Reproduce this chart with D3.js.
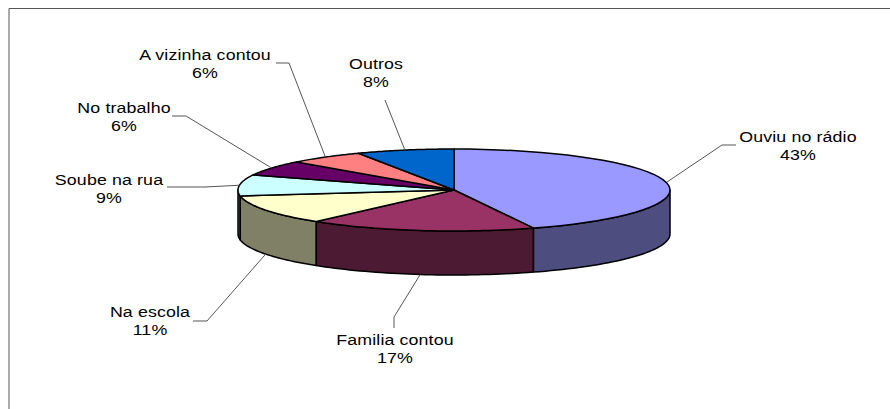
<!DOCTYPE html>
<html>
<head>
<meta charset="utf-8">
<script src="https://cdn.jsdelivr.net/npm/d3@7"></script>
<style>
  html, body { margin: 0; padding: 0; background: #fff; }
  svg { display: block; }
  text { font-family: "Liberation Sans", Arial, sans-serif; font-size: 14px; letter-spacing: 0.1px; fill: #000; text-anchor: middle; }
</style>
</head>
<body>
<div id="chart"></div>
<script>
const categories = ["Ouviu no rádio", "Familia contou", "Na escola", "Soube na rua", "No trabalho", "A vizinha contou", "Outros"];
const percentLabels = ["43%", "17%", "11%", "9%", "6%", "6%", "8%"];
// shares as the slices appear in the picture (the printed labels are rounded)
const sliceShares = [44, 17, 11.7, 8.3, 6, 5.7, 7.3];
const topColors = ["#9999ff", "#993366", "#ffffcc", "#ccffff", "#660066", "#ff8080", "#0066cc"];
const sideColors = ["#4d4d80", "#4d1a33", "#808066", "#668080", "#330033", "#804040", "#003366"];

// label centre, then elbow points of the leader line
const labelLayout = [
  { x: 798, y: 142, elbow: [[722, 145], [736, 145]], start: [667, 182] },
  { x: 395, y: 345, elbow: [[394, 317], [394, 328]] },
  { x: 150, y: 317, elbow: [[207, 321], [193, 321]] },
  { x: 109, y: 185, elbow: [[205, 187], [167, 187]] },
  { x: 124, y: 113, elbow: [[186, 116], [172, 116]] },
  { x: 205, y: 60, elbow: [[289, 63], [276, 63]] },
  { x: 376, y: 69, elbow: [[385, 100]] }
];

const width = 890;
const height = 409;
const cx = 454, cy = 190, rx = 216, ry = 41, depth = 44;
const textStretch = 1.27; // the labels are drawn wide in the original

const svg = d3.select("#chart")
  .append("svg")
  .attr("width", width)
  .attr("height", height);

// Frame, only top and left are visible
svg.append("path")
  .attr("d", d3.line()([[9, height], [9, 8.5], [width, 8.5]]))
  .attr("fill", "none")
  .attr("stroke", "#555")
  .attr("stroke-width", 1);

const slices = d3.pie().sort(null).value(d => d)(sliceShares);

// angle measured clockwise from 12 o'clock, projected on the tilted disc
const project = (a, dy = 0) => [cx + rx * Math.sin(a), cy - ry * Math.cos(a) + dy];
const line = d3.line();

// Side walls: only the part of a slice on the front half of the disc
const wallStart = Math.PI / 2, wallEnd = Math.PI * 1.5;
const walls = slices
  .map((s, i) => ({ a0: Math.max(s.startAngle, wallStart), a1: Math.min(s.endAngle, wallEnd), i }))
  .filter(d => d.a1 > d.a0);

svg.append("g").selectAll("path")
  .data(walls.reverse())
  .join("path")
  .attr("d", d => {
    const angles = d3.range(0, 41).map(k => d.a0 + (d.a1 - d.a0) * k / 40);
    const top = angles.map(a => project(a));
    const bottom = angles.slice().reverse().map(a => project(a, depth));
    return line(top.concat(bottom)) + "Z";
  })
  .attr("fill", d => sideColors[d.i])
  .attr("stroke", "#000")
  .attr("stroke-width", 1.5)
  .attr("stroke-linejoin", "round");

// Top of the pie
svg.append("g").selectAll("path")
  .data(slices)
  .join("path")
  .attr("d", d => {
    const angles = d3.range(0, 41).map(k => d.startAngle + (d.endAngle - d.startAngle) * k / 40);
    return line([[cx, cy]].concat(angles.map(a => project(a)))) + "Z";
  })
  .attr("fill", (d, i) => topColors[i])
  .attr("stroke", "#000")
  .attr("stroke-width", 1.5)
  .attr("stroke-linejoin", "round");

// Leader lines start at the slice middle, on the wall for the front slices
svg.append("g").selectAll("path")
  .data(slices)
  .join("path")
  .attr("d", (d, i) => {
    const mid = (d.startAngle + d.endAngle) / 2;
    const front = mid > wallStart && mid < wallEnd;
    const start = labelLayout[i].start || project(mid, front ? depth : 0);
    return line([start].concat(labelLayout[i].elbow));
  })
  .attr("fill", "none")
  .attr("stroke", "#555")
  .attr("stroke-width", 1);

// Labels, name over percentage
const labels = svg.append("g").selectAll("text")
  .data(categories)
  .join("text")
  .attr("transform", (d, i) => `translate(${labelLayout[i].x},${labelLayout[i].y}) scale(${textStretch},1)`);

labels.append("tspan").text(d => d);
labels.append("tspan")
  .attr("x", 0)
  .attr("dy", 18)
  .text((d, i) => percentLabels[i]);
</script>
</body>
</html>
